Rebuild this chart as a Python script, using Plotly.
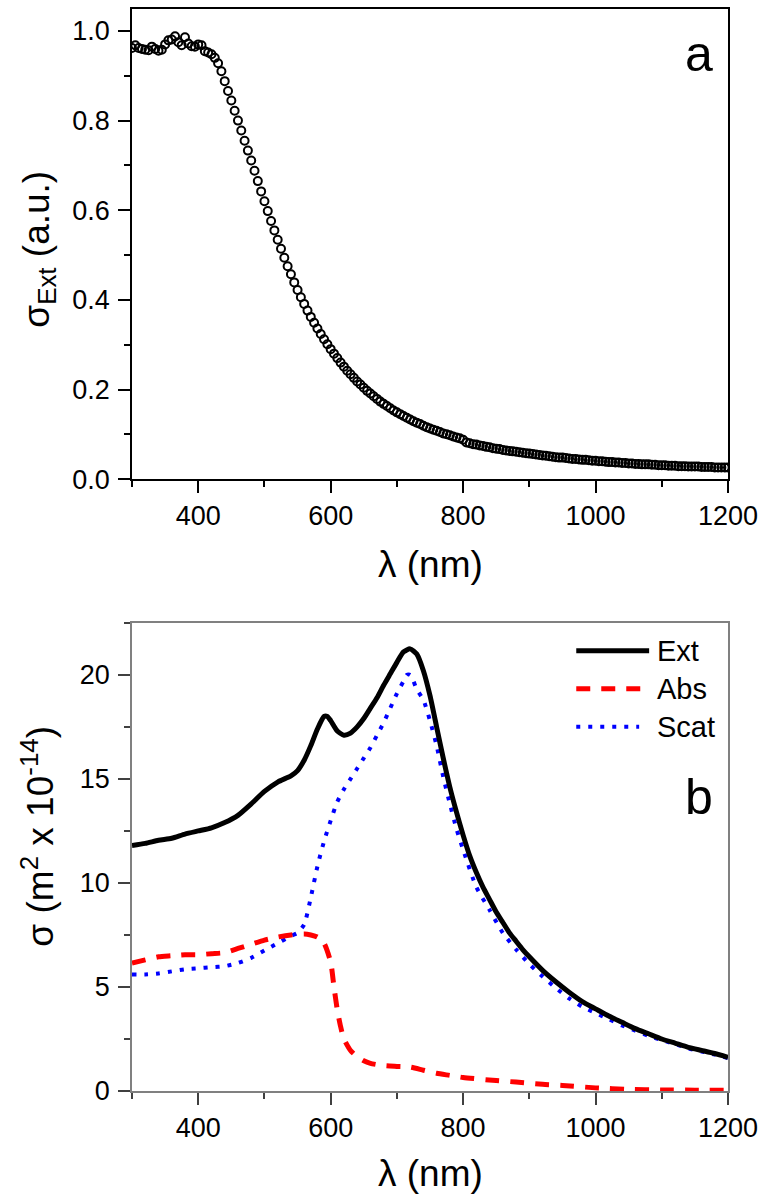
import plotly.graph_objects as go

# ---------------- Data: panel a (measured extinction, 5 nm steps) ----------------
wl_a = list(range(300, 1201, 5))
ext_a = [
    0.962, 0.968, 0.962, 0.960, 0.958, 0.957, 0.965, 0.960, 0.956, 0.958,   # 300-345
    0.970, 0.979, 0.981, 0.988, 0.975, 0.968, 0.986, 0.972, 0.966, 0.965,   # 350-395
    0.970, 0.968, 0.955, 0.952, 0.948, 0.940, 0.928, 0.910, 0.888, 0.866,   # 400-445
    0.845, 0.822, 0.800, 0.778, 0.755, 0.733, 0.711, 0.688, 0.665, 0.642,   # 450-495
    0.620, 0.598, 0.576, 0.555, 0.534, 0.514, 0.494, 0.475, 0.457, 0.439,   # 500-545
    0.422, 0.406, 0.391, 0.376, 0.362, 0.349, 0.336, 0.324, 0.312, 0.301,   # 550-595
    0.290, 0.280, 0.270, 0.260, 0.251, 0.242, 0.234, 0.226, 0.218, 0.211,   # 600-645
    0.204, 0.197, 0.191, 0.185, 0.179, 0.173, 0.168, 0.163, 0.158, 0.153,   # 650-695
    0.149, 0.145, 0.141, 0.137, 0.133, 0.129, 0.126, 0.123, 0.119, 0.116,   # 700-745
    0.113, 0.110, 0.108, 0.105, 0.102, 0.100, 0.098, 0.095, 0.093, 0.091,   # 750-795
    0.088, 0.082, 0.080, 0.078, 0.077, 0.075, 0.074, 0.072, 0.071, 0.069,   # 800-845
    0.068, 0.067, 0.065, 0.064, 0.063, 0.062, 0.061, 0.060, 0.059, 0.058,   # 850-895
    0.057, 0.056, 0.055, 0.054, 0.053, 0.052, 0.051, 0.050, 0.049, 0.048,   # 900-945
    0.048, 0.047, 0.046, 0.045, 0.045, 0.044, 0.043, 0.043, 0.042, 0.041,   # 950-995
    0.041, 0.040, 0.040, 0.039, 0.038, 0.038, 0.037, 0.037, 0.036, 0.036,   # 1000-1045
    0.035, 0.035, 0.034, 0.034, 0.033, 0.033, 0.033, 0.032, 0.032, 0.031,   # 1050-1095
    0.031, 0.031, 0.030, 0.030, 0.030, 0.029, 0.029, 0.029, 0.028, 0.028,   # 1100-1145
    0.028, 0.028, 0.027, 0.027, 0.027, 0.027, 0.026, 0.026, 0.026, 0.026,   # 1150-1195
    0.026,                                                                  # 1200
]

# ---------------- Data: panel b (calculated cross sections) ----------------
wl_ext = [300, 320, 340, 360, 380, 400, 420, 440, 460, 480, 500, 520, 540, 550,
          560, 570, 580, 590, 595, 600, 610, 620, 630, 640, 650, 660, 670, 680,
          690, 700, 710, 720, 730, 740, 750, 760, 770, 780, 790, 800, 810, 820,
          830, 840, 850, 860, 870, 880, 890, 900, 920, 940, 960, 980, 1000,
          1020, 1040, 1060, 1080, 1100, 1120, 1140, 1160, 1180, 1200]
sig_ext = [11.8, 11.9, 12.05, 12.15, 12.35, 12.5, 12.65, 12.9, 13.25, 13.8, 14.4,
           14.85, 15.15, 15.4, 15.9, 16.6, 17.4, 18.0, 18.0, 17.8, 17.3, 17.1,
           17.2, 17.5, 17.9, 18.4, 18.9, 19.5, 20.05, 20.6, 21.1, 21.25, 21.0,
           20.2, 19.0, 17.5, 16.0, 14.6, 13.4, 12.3, 11.3, 10.5, 9.8, 9.2, 8.6,
           8.1, 7.6, 7.2, 6.8, 6.45, 5.8, 5.25, 4.75, 4.3, 3.95, 3.6, 3.3, 3.0,
           2.75, 2.5, 2.3, 2.1, 1.95, 1.8, 1.62]

wl_abs = [300, 320, 340, 360, 380, 400, 420, 440, 460, 480, 500, 520, 540, 560,
          570, 580, 590, 600, 605, 610, 615, 620, 630, 640, 650, 660, 680, 700,
          720, 740, 760, 780, 800, 850, 880, 920, 950, 1000, 1050, 1100, 1150,
          1200]
sig_abs = [6.15, 6.3, 6.45, 6.5, 6.55, 6.55, 6.6, 6.65, 6.85, 7.05, 7.25, 7.4,
           7.5, 7.55, 7.5, 7.4, 7.1, 6.2, 5.0, 3.9, 3.1, 2.5, 1.95, 1.65, 1.45,
           1.33, 1.22, 1.18, 1.15, 1.0, 0.85, 0.75, 0.65, 0.5, 0.43, 0.32, 0.27,
           0.15, 0.08, 0.05, 0.04, 0.04]

wl_sca = [300, 320, 340, 360, 380, 400, 420, 440, 460, 480, 500, 520, 540, 550,
          560, 570, 580, 590, 600, 610, 620, 630, 640, 650, 660, 670, 680, 690,
          700, 710, 715, 720, 725, 730, 740, 750, 760, 770, 780, 790, 800, 820,
          840, 860, 880, 900, 920, 940, 960, 980, 1000, 1020, 1040, 1060, 1080,
          1100, 1120, 1140, 1160, 1180, 1200]
sig_sca = [5.6, 5.6, 5.65, 5.75, 5.85, 5.9, 5.95, 6.0, 6.15, 6.4, 6.75, 7.1,
           7.45, 7.6, 8.0, 9.3, 10.8, 12.0, 13.0, 13.9, 14.5, 15.0, 15.5, 16.0,
           16.5, 17.1, 17.7, 18.4, 19.1, 19.7, 20.0, 20.0, 19.7, 19.3, 18.8, 17.8,
           16.6, 15.1, 13.8, 12.6, 11.6, 9.8, 8.7, 7.6, 6.8, 6.1, 5.5, 4.95, 4.45,
           4.05, 3.75, 3.45, 3.15, 2.9, 2.65, 2.45, 2.25, 2.05, 1.9, 1.75, 1.58]

x_ticks = [400, 600, 800, 1000, 1200]
ya_ticks = [0.0, 0.2, 0.4, 0.6, 0.8, 1.0]
ya_labels = ["0.0", "0.2", "0.4", "0.6", "0.8", "1.0"]
yb_ticks = [0, 5, 10, 15, 20]

legend_names = ["Ext", "Abs", "Scat"]

FONT = "Liberation Sans, Arial, sans-serif"
TICKF = dict(family=FONT, size=27, color="black")

fig = go.Figure()

fig.add_trace(go.Scatter(
    x=wl_a, y=ext_a, mode="markers", xaxis="x", yaxis="y",
    marker=dict(symbol="circle-open", size=8, color="black",
                line=dict(width=2, color="black")),
    showlegend=False, cliponaxis=True))

fig.add_trace(go.Scatter(
    x=wl_sca, y=sig_sca, mode="lines", xaxis="x2", yaxis="y2", name="Scat",
    line=dict(color="#0000ff", width=4, dash="4px,8px", shape="spline",
              smoothing=0.6), showlegend=False))
fig.add_trace(go.Scatter(
    x=wl_ext, y=sig_ext, mode="lines", xaxis="x2", yaxis="y2", name="Ext",
    line=dict(color="black", width=5, shape="spline", smoothing=0.6),
    showlegend=False))
fig.add_trace(go.Scatter(
    x=wl_abs, y=sig_abs, mode="lines", xaxis="x2", yaxis="y2", name="Abs",
    line=dict(color="#ff0000", width=5, dash="14px,11px", shape="spline",
              smoothing=0.6), showlegend=False))

# geometry (pixels): plot area x 132-729, panel a y 7-478, panel b y 622-1091
W, H = 765, 1197
L, R, T, B = 132, 36, 7, 106
PW = W - L - R
PH = H - T - B


def px2x(px):
    return (px - L) / PW


def py2y(py):
    return (H - B - py) / PH


dom_a = [py2y(478), 1.0]
dom_b = [0.0, py2y(622)]

axis_common = dict(
    range=[300, 1200], tickvals=x_ticks, ticks="outside", ticklen=12,
    tickwidth=1.5, showline=True, linewidth=1.5, mirror=True, showgrid=False,
    zeroline=False, tickfont=TICKF,
    minor=dict(ticks="outside", ticklen=6, tickwidth=1.5, dtick=100, tick0=0,
               showgrid=False),
)

fig.update_layout(
    width=W, height=H,
    margin=dict(l=L, r=R, t=T, b=B),
    paper_bgcolor="white", plot_bgcolor="white",
    font=dict(family=FONT, color="black"),
    xaxis=dict(axis_common, anchor="y", domain=[0, 1], linecolor="black",
               tickcolor="black", minor_tickcolor="black"),
    yaxis=dict(anchor="x", domain=dom_a, range=[0, 1.049], tickvals=ya_ticks,
               ticktext=ya_labels, ticks="outside", ticklen=12, tickwidth=1.5,
               showline=True, linewidth=1.5, linecolor="black", mirror=True,
               tickcolor="black", showgrid=False, zeroline=False, tickfont=TICKF,
               ticklabelstandoff=3,
               minor=dict(ticks="outside", ticklen=6, tickwidth=1.5, dtick=0.1,
                          tick0=0, showgrid=False, tickcolor="black")),
    xaxis2=dict(axis_common, anchor="y2", domain=[0, 1], linecolor="#808080",
                tickcolor="#404040", minor_tickcolor="#404040"),
    yaxis2=dict(anchor="x2", domain=dom_b, range=[0, 22.5], tickvals=yb_ticks,
                ticks="outside", ticklen=12, tickwidth=1.5, showline=True,
                linewidth=1.5, linecolor="#808080", mirror=True,
                tickcolor="#404040", showgrid=False, zeroline=False,
                tickfont=TICKF, ticklabelstandoff=3,
                minor=dict(ticks="outside", ticklen=6, tickwidth=1.5, dtick=2.5,
                           tick0=0, showgrid=False, tickcolor="#404040")),
)

TITLEF = dict(family=FONT, size=37, color="black")
ann = [
    dict(text="λ (nm)", x=0.5, y=py2y(564), xanchor="center", yanchor="middle"),
    dict(text="λ (nm)", x=0.5, y=py2y(1174), xanchor="center", yanchor="middle"),
    dict(text="σ<sub>Ext</sub> (a.u.)", x=px2x(38), y=py2y(248), textangle=-90,
         xanchor="center", yanchor="middle"),
    dict(text="σ (m<sup>2</sup> x 10<sup>-14</sup>)", x=px2x(38), y=py2y(836),
         textangle=-90, xanchor="center", yanchor="middle"),
]
for a in ann:
    fig.add_annotation(xref="paper", yref="paper", showarrow=False, font=TITLEF, **a)

PANELF = dict(family=FONT, size=50, color="black")
fig.add_annotation(text="a", x=px2x(700), y=py2y(52), xref="paper", yref="paper",
                   showarrow=False, font=PANELF, xanchor="center", yanchor="middle")
fig.add_annotation(text="b", x=px2x(700), y=py2y(796), xref="paper", yref="paper",
                   showarrow=False, font=PANELF, xanchor="center", yanchor="middle")

# custom legend for panel b
leg_rows = [
    (legend_names[0], 650, dict(color="black", width=5), 650),
    (legend_names[1], 688, dict(color="#ff0000", width=5, dash="14px,11px"), 643),
    (legend_names[2], 726, dict(color="#0000ff", width=4, dash="4px,8px"), 640),
]
LEGF = dict(family=FONT, size=29, color="black")
for name, ypx, ln, xend in leg_rows:
    fig.add_shape(type="line", xref="paper", yref="paper",
                  x0=px2x(577), x1=px2x(xend), y0=py2y(ypx), y1=py2y(ypx), line=ln)
    fig.add_annotation(text=name, x=px2x(656), y=py2y(ypx), xref="paper",
                       yref="paper", showarrow=False, font=LEGF,
                       xanchor="left", yanchor="middle")

fig.write_html("out.html",
               config={"displayModeBar": False},
               post_script="document.body.style.margin='0';"
                           "document.body.style.padding='0';"
                           "document.body.style.overflow='hidden';")
